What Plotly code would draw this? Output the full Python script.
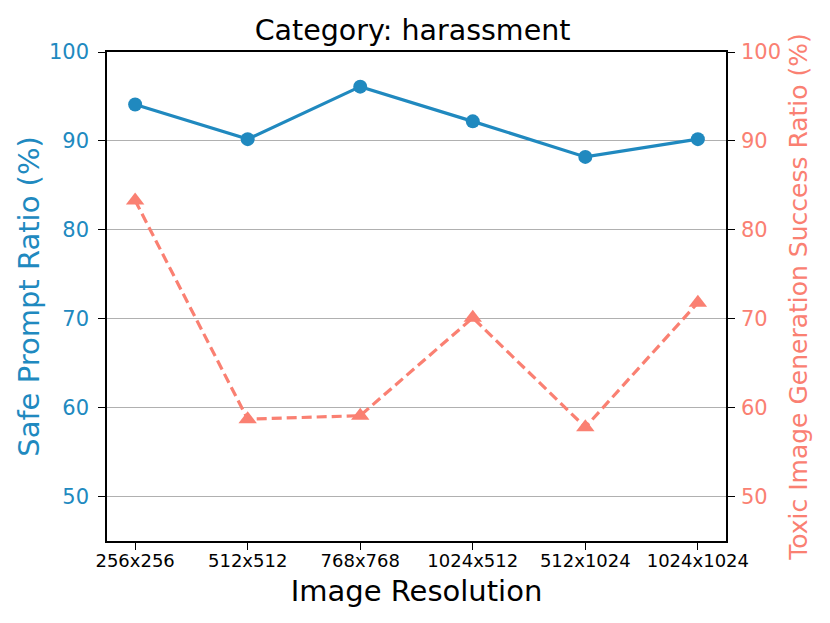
import plotly.graph_objects as go

# --> Data
resolutions = ["256x256", "512x512", "768x768", "1024x512", "512x1024", "1024x1024"]
safe_prompt_ratio = [94.1, 90.2, 96.1, 92.2, 88.2, 90.2]
toxic_success_ratio = [83.3, 58.7, 59.1, 70.1, 57.8, 71.8]
y_ticks = [50, 60, 70, 80, 90, 100]

blue = "#2089bf"
salmon = "#fa8072"
font = "DejaVu Sans"

fig = go.Figure()

fig.add_trace(go.Scatter(x=resolutions, y=safe_prompt_ratio, mode="lines+markers",
                         line=dict(color=blue, width=3.2),
                         marker=dict(symbol="circle", size=14, color=blue),
                         yaxis="y", showlegend=False))

fig.add_trace(go.Scatter(x=resolutions, y=toxic_success_ratio, mode="lines+markers",
                         line=dict(color=salmon, width=3.2, dash="10px,5px"),
                         marker=dict(symbol="triangle-up", size=16, color=salmon),
                         yaxis="y2", showlegend=False))

# --> Page body adds an 8px offset, so the figure is sized a bit smaller
fig.update_layout(
    width=814, height=607,
    margin=dict(l=99, r=96, t=44, b=74),
    plot_bgcolor="white", paper_bgcolor="white",
    font=dict(family=font, color="black"),
    title=dict(text="Category: harassment", x=0.497, xanchor="center",
               y=0.964, yanchor="middle", font=dict(size=28.5, color="black")),
    xaxis=dict(
        type="category", range=[-0.25, 5.25],
        showline=True, linecolor="black", linewidth=1.5, mirror=True,
        ticks="outside", ticklen=7, tickwidth=1.3, tickcolor="black",
        ticklabelstandoff=-4,
        showgrid=False, tickfont=dict(size=18, color="black"),
        title=dict(text="Image Resolution", font=dict(size=29, color="black"), standoff=10),
    ),
    yaxis=dict(
        range=[45, 100], tickvals=y_ticks,
        showline=True, linecolor="black", linewidth=1.5,
        ticks="outside", ticklen=7, tickwidth=1.3, tickcolor="black",
        ticklabelstandoff=5,
        showgrid=True, gridcolor="#b0b0b0", gridwidth=1.3, zeroline=False,
        tickfont=dict(size=21, color=blue),
        title=dict(text="Safe Prompt Ratio (%)", font=dict(size=29, color=blue), standoff=1),
    ),
    yaxis2=dict(
        range=[45, 100], tickvals=y_ticks, overlaying="y", side="right",
        showline=True, linecolor="black", linewidth=1.5,
        ticks="outside", ticklen=7, tickwidth=1.3, tickcolor="black",
        ticklabelstandoff=2,
        showgrid=False, zeroline=False,
        tickfont=dict(size=21, color=salmon),
        title=dict(text="Toxic Image Generation Success Ratio (%)",
                   font=dict(size=25, color=salmon), standoff=9),
    ),
)

fig.write_html("out.html")
